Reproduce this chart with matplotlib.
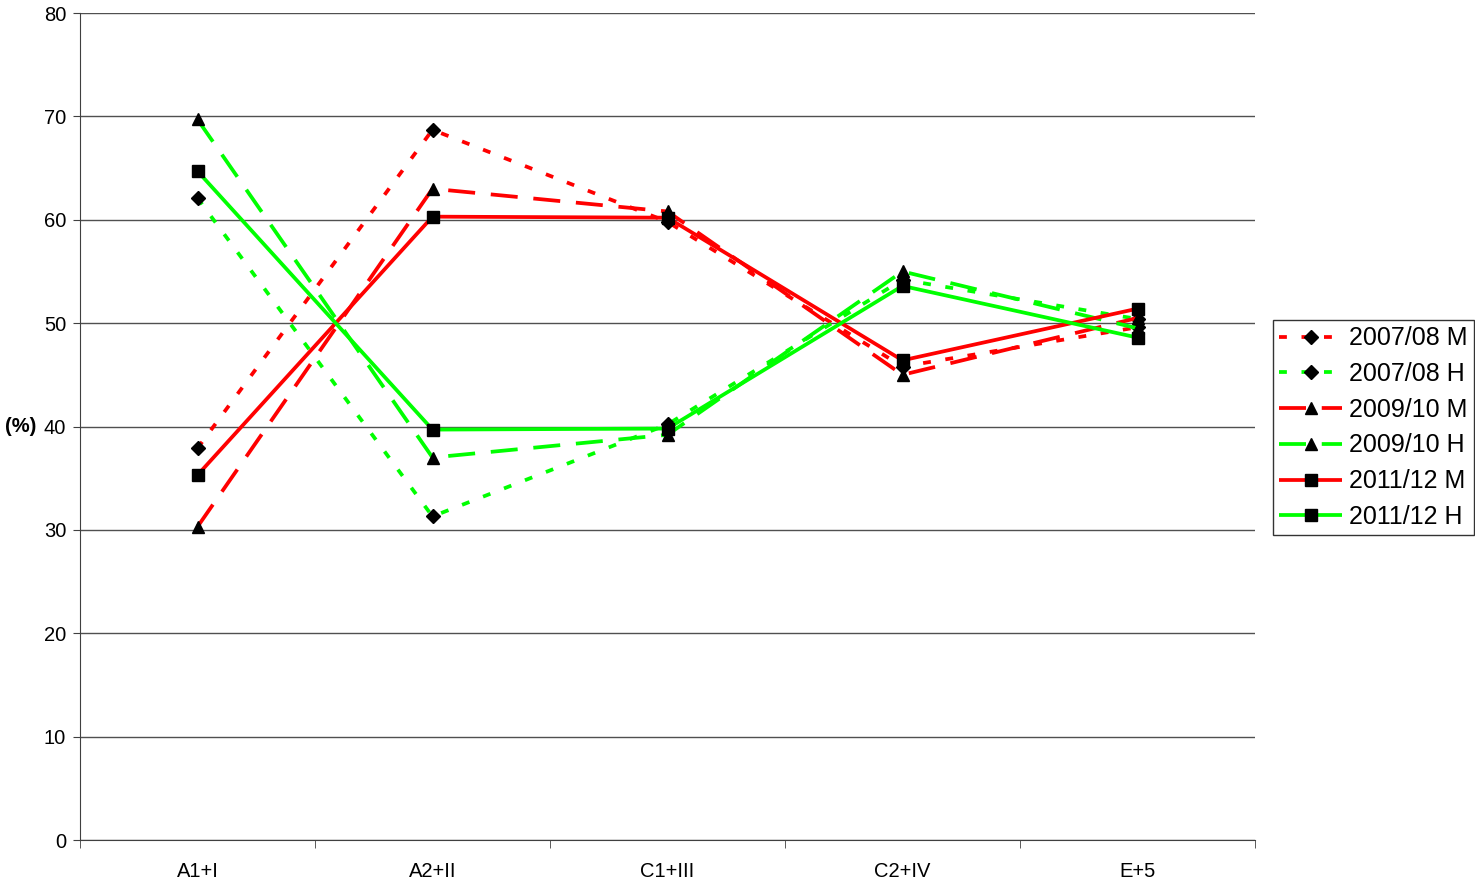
import matplotlib
matplotlib.use("Agg")
import matplotlib.pyplot as plt
from matplotlib.lines import Line2D

plt.rcParams['font.family'] = ['Liberation Sans', 'DejaVu Sans']

categories = ["A1+I", "A2+II", "C1+III", "C2+IV", "E+5"]
labels = ["2007/08 M", "2007/08 H", "2009/10 M", "2009/10 H", "2011/12 M", "2011/12 H"]

m_0708 = [37.9, 68.7, 59.8, 45.8, 49.6]
h_0708 = [62.1, 31.3, 40.2, 54.2, 50.4]
m_0910 = [30.3, 63.0, 60.8, 45.0, 50.5]
h_0910 = [69.7, 37.0, 39.2, 55.0, 49.5]
m_1112 = [35.3, 60.3, 60.2, 46.4, 51.4]
h_1112 = [64.7, 39.7, 39.8, 53.6, 48.6]

series = [m_0708, h_0708, m_0910, h_0910, m_1112, h_1112]
colors = ['#FF0000', '#00FF00'] * 3
markers = ['D', 'D', '^', '^', 's', 's']
msizes = [7, 7, 9, 9, 8.5, 8.5]
dashes = [(2.1, 3.9), (2.1, 3.9), (7.2, 4.2), (7.2, 4.2), None, None]

fig = plt.figure(figsize=(14.75, 8.85), dpi=100)
ax = fig.add_axes([80/1475, 45/885, (1255-80)/1475, (840-13)/885])

x = list(range(len(categories)))
handles = []
for vals, c, mk, ms, ds, lab in zip(series, colors, markers, msizes, dashes, labels):
    ln, = ax.plot(x, vals, color=c, lw=2.7, marker=mk, markersize=ms,
                  markerfacecolor='black', markeredgecolor='black', label=lab,
                  solid_capstyle='butt', dash_capstyle='butt')
    if ds is not None:
        ln.set_dashes(ds)
    handles.append(ln)

ax.set_xlim(-0.5, len(categories) - 0.5)
ax.set_ylim(0, 80)
ax.set_yticks(range(0, 81, 10))
ax.set_xticks(x)
ax.set_xticklabels(categories)
ax.set_xticks([i - 0.5 for i in range(len(categories) + 1)], minor=True)
ax.tick_params(axis='x', which='major', length=0, labelsize=14.5, pad=16)
ax.tick_params(axis='x', which='minor', length=6, direction='out', color='#404040')
ax.tick_params(axis='y', length=5, direction='out', labelsize=14.5, pad=5, color='#404040')
ax.yaxis.grid(True, color='#505050', lw=1)
ax.set_axisbelow(True)
for s in ['top', 'right']:
    ax.spines[s].set_visible(False)
ax.spines['left'].set_color('#404040')
ax.spines['bottom'].set_color('#404040')

fig.text(5/1475, 1 - 427/885, "(%)", fontsize=14.5, fontweight='bold', va='center', ha='left')

leg = fig.legend(handles=handles, loc='upper right', bbox_to_anchor=(1474/1475, 1 - 320/885),
                 frameon=True, fancybox=False, edgecolor='black', fontsize=18,
                 handlelength=2.5, handletextpad=0.3, labelspacing=0.47,
                 borderpad=0.25, borderaxespad=0, numpoints=1)
leg.get_frame().set_linewidth(1)

fig.savefig("out.png", dpi=100)
